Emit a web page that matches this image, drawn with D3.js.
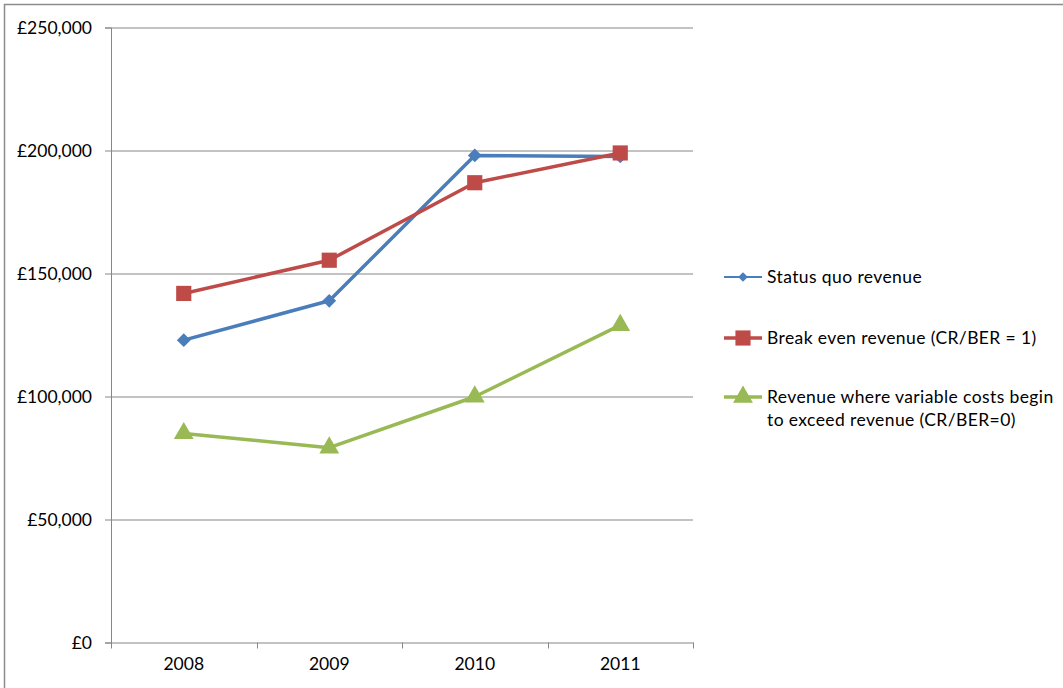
<!DOCTYPE html>
<html>
<head>
<meta charset="utf-8">
<script src="https://cdn.jsdelivr.net/npm/d3@7"></script>
<style>
  body { margin: 0; background: #fff; }
  text { font-family: Lato, "Open Sans", sans-serif; fill: #000; }
</style>
</head>
<body>
<div id="linechart"></div>
<script>
// chart values
var years = ["2008", "2009", "2010", "2011"];
var statusQuo = [122900, 138900, 198000, 197600];
var breakEven = [141900, 155400, 186900, 199000];
var varCostLimit = [85000, 79200, 99900, 129000];
var yTicks = [0, 50000, 100000, 150000, 200000, 250000];
var seriesNames = ["Status quo revenue", "Break even revenue (CR/BER = 1)",
                   ["Revenue where variable costs begin", "to exceed revenue (CR/BER=0)"]];

class LineChart {
    constructor(width, height, margin) {
        this.width = width;
        this.height = height;
        this.margin = margin;
        this.series = [
            { name: seriesNames[0], values: statusQuo, color: "#4A7EBB", shape: "diamond" },
            { name: seriesNames[1], values: breakEven, color: "#BE4B48", shape: "square" },
            { name: seriesNames[2], values: varCostLimit, color: "#98B954", shape: "triangle" }
        ];
        this.svg = this.createChart();
        this.createYAxis();
        this.createXAxis();
        this.drawLines();
        this.createLegend();
    }

    createChart() {
        var root = d3.select("#linechart").append("svg")
            .attr("width", 1063).attr("height", 688);
        // outer chart border (runs off the right and bottom)
        root.append("rect")
            .attr("x", 4.5).attr("y", 4.5)
            .attr("width", 1080).attr("height", 700)
            .attr("fill", "none").attr("stroke", "#8c8c8c").attr("stroke-width", 1.5);

        this.xScale = d3.scaleBand().domain(years).range([0, this.width]);
        this.yScale = d3.scaleLinear().domain([0, 250000]).range([this.height, 0]);

        return root.append("g")
            .attr("transform", "translate(" + this.margin.left + "," + this.margin.top + ")");
    }

    createYAxis() {
        var fmt = d3.format(",");
        this.svg.append("g")
            .attr("class", "grid")
            .selectAll("line")
            .data(yTicks.filter(d => d > 0))
            .join("line")
            .attr("x1", 0).attr("x2", this.width)
            .attr("y1", d => Math.round(this.yScale(d)) + 0.5)
            .attr("y2", d => Math.round(this.yScale(d)) + 0.5)
            .attr("stroke", "#868686");

        var yAxis = this.svg.append("g")
            .attr("class", "axis axis--y")
            .call(d3.axisLeft(this.yScale).tickValues(yTicks).tickSize(6).tickPadding(13)
                .tickFormat(d => "£" + fmt(d)));
        yAxis.select(".domain").attr("stroke", "#868686");
        yAxis.selectAll(".tick line").attr("stroke", "#868686");
        yAxis.selectAll("text").style("font-size", "17.5px").attr("fill", "#000");
    }

    createXAxis() {
        var xAxis = this.svg.append("g")
            .attr("class", "axis axis--x")
            .attr("transform", "translate(0," + this.height + ")")
            .call(d3.axisBottom(this.xScale).tickSize(0).tickPadding(15));
        xAxis.select(".domain").attr("stroke", "#868686");
        xAxis.selectAll("text").style("font-size", "17.5px").attr("fill", "#000");
        // tick marks sit between the categories
        var bounds = years.map(d => this.xScale(d)).concat([this.width]);
        xAxis.selectAll(".sep")
            .data(bounds)
            .join("line")
            .attr("class", "sep")
            .attr("x1", d => Math.round(d) + 0.5).attr("x2", d => Math.round(d) + 0.5)
            .attr("y1", 0).attr("y2", 6)
            .attr("stroke", "#868686");
    }

    symbolFor(shape) {
        if (shape === "diamond") return d3.symbol().type(d3.symbolDiamond2).size(120);
        if (shape === "square") return d3.symbol().type(d3.symbolSquare).size(230);
        return d3.symbol().type(d3.symbolTriangle).size(170);
    }

    drawLines() {
        var xs = this.xScale, ys = this.yScale;
        var valueline = d3.line()
            .x((d, i) => xs(years[i]) + xs.bandwidth() / 2)
            .y(d => ys(d));

        this.series.forEach(s => {
            this.svg.append("path")
                .datum(s.values)
                .attr("class", "line")
                .attr("d", valueline)
                .attr("fill", "none")
                .attr("stroke", s.color)
                .attr("stroke-width", 3.5)
                .attr("stroke-linejoin", "round");
        });
        this.series.forEach(s => {
            var sym = this.symbolFor(s.shape);
            this.svg.selectAll(null)
                .data(s.values)
                .join("path")
                .attr("transform", (d, i) => "translate(" + (xs(years[i]) + xs.bandwidth() / 2) + "," + ys(d) + ")")
                .attr("d", sym)
                .attr("fill", s.color);
        });
    }

    createLegend() {
        var rows = [277, 338, 397];
        var legend = d3.select("#linechart svg").append("g").attr("class", "legend");
        this.series.forEach((s, i) => {
            var y = rows[i];
            legend.append("line")
                .attr("x1", 724).attr("x2", 762)
                .attr("y1", y).attr("y2", y)
                .attr("stroke", s.color)
                .attr("stroke-width", i === 0 ? 2 : 3.5);
            var sym = this.symbolFor(s.shape);
            legend.append("path")
                .attr("transform", "translate(743," + y + ")")
                .attr("d", i === 0 ? d3.symbol().type(d3.symbolDiamond2).size(60) : sym)
                .attr("fill", s.color);
            var lines = Array.isArray(s.name) ? s.name : [s.name];
            var t = legend.append("text")
                .attr("x", 767).attr("y", y)
                .style("font-size", "17.5px")
                .style("letter-spacing", "0.4px");
            lines.forEach((l, j) => {
                t.append("tspan").attr("x", 767).attr("dy", j === 0 ? "0.35em" : "1.3em").text(l);
            });
        });
    }
}

var chart = new LineChart(582, 615, { left: 111, top: 27.5 });
</script>
</body>
</html>
